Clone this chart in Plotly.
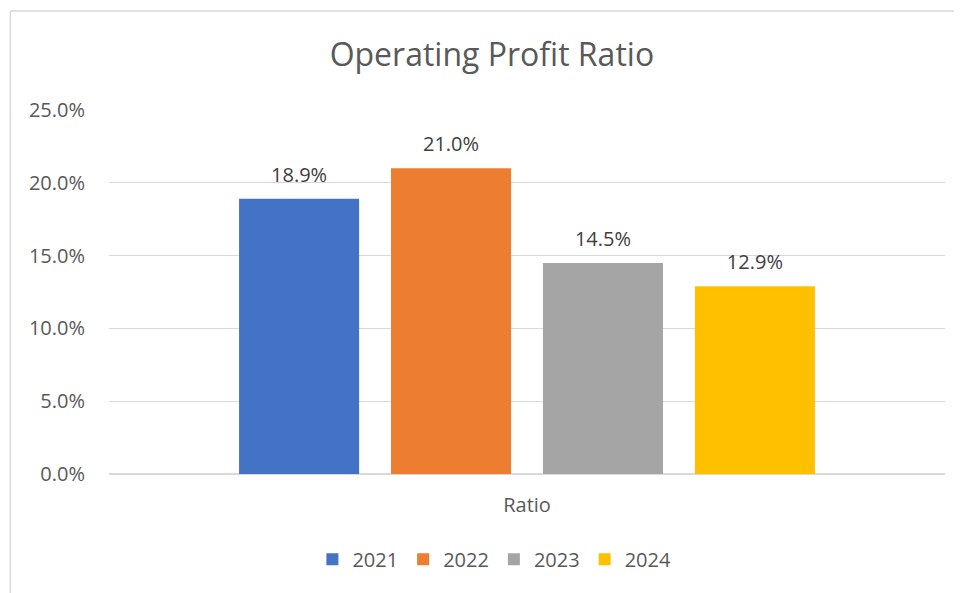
import plotly.graph_objects as go

# values
years = ["2021", "2022", "2023", "2024"]
ratios = [0.189, 0.210, 0.145, 0.129]
colors = ["#4472C4", "#ED7D31", "#A5A5A5", "#FFC000"]
category = ["Ratio"]

font = "Open Sans"
txt = "#595959"

fig = go.Figure()
for yr, val, col in zip(years, ratios, colors):
    fig.add_trace(go.Bar(
        x=category, y=[val], name=yr,
        marker=dict(color=col, line=dict(width=0)),
        offsetgroup=yr, alignmentgroup="a",
        hoverinfo="skip",
    ))
# data labels: invisible markers grouped like the bars, text above them
for yr, val in zip(years, ratios):
    fig.add_trace(go.Scatter(
        x=category, y=[val], mode="markers+text", showlegend=False,
        offsetgroup=yr, alignmentgroup="a",
        marker=dict(size=18, opacity=0),
        text=[f"{val:.1%}"], textposition="top center",
        textfont=dict(family=font, size=20, color="#404040"),
        cliponaxis=False,
    ))

fig.update_layout(
    width=962, height=593,
    margin=dict(l=101, r=25, t=102, b=127),
    paper_bgcolor="white", plot_bgcolor="white",
    barmode="group", bargap=0.273, bargroupgap=0.21,
    scattermode="group", scattergap=0.273,
    title=dict(text="Operating Profit Ratio", x=0.503, xanchor="center",
               y=0.921, yanchor="middle",
               font=dict(family=font, size=32, color=txt)),
    font=dict(family=font, color=txt),
    showlegend=True,
    legend=dict(orientation="h", x=0.461, xanchor="center", y=-0.234, yanchor="middle",
                font=dict(family=font, size=20, color=txt), itemwidth=30,
                traceorder="normal"),
    xaxis=dict(showgrid=False, showline=False, ticks="",
               tickfont=dict(family=font, size=20, color=txt), ticklabelstandoff=17),
    yaxis=dict(range=[0, 0.25], dtick=0.05, tickformat=".1%",
               gridcolor="#D9D9D9", gridwidth=1, zeroline=True,
               zerolinecolor="#D9D9D9", zerolinewidth=1.5,
               showline=False, ticks="", ticklabelstandoff=23,
               tickfont=dict(family=font, size=20, color=txt)),
)

# chart border (Excel-style frame, only top and left visible in the crop)
fig.add_shape(type="line", xref="paper", yref="paper",
              x0=-0.118, x1=1.1, y0=1.272, y1=1.272,
              line=dict(color="#D9D9D9", width=1.5))
fig.add_shape(type="line", xref="paper", yref="paper",
              x0=-0.118, x1=-0.118, y0=1.272, y1=-0.4,
              line=dict(color="#D9D9D9", width=1.5))

fig.write_html("out.html")
